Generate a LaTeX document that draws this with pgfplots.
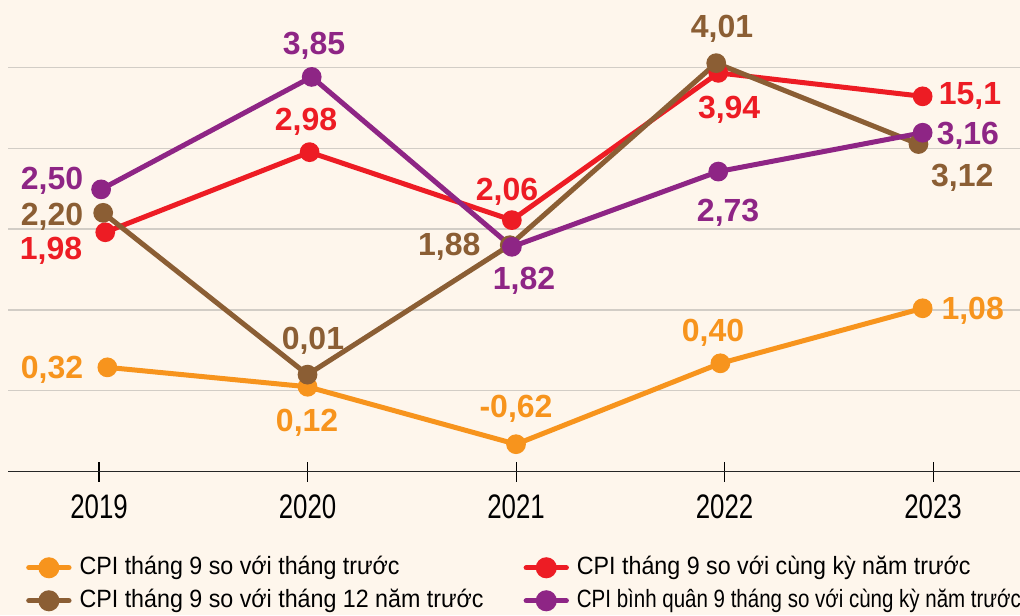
\documentclass[border=0pt]{standalone}
\usepackage{pgfplots}
\pgfplotsset{compat=1.18}
\usepackage{fontspec}
\setmainfont{Liberation Sans}
\newfontfamily\tickfont[FakeStretch=0.76]{Liberation Sans}
\newfontfamily\legfont[FakeStretch=0.93]{Liberation Sans}
\newfontfamily\legfontn[FakeStretch=0.82]{Liberation Sans}
\definecolor{bgC}{HTML}{FEF6EC}
\definecolor{gridC}{HTML}{D2CDC6}
\definecolor{orangeC}{HTML}{F7941D}
\definecolor{redC}{HTML}{ED1C24}
\definecolor{brownC}{HTML}{8B5E34}
\definecolor{purpleC}{HTML}{8E2585}
\tikzset{lab/.style={font=\fontsize{24pt}{24pt}\selectfont\bfseries, inner sep=0pt, text height=17pt, text depth=0pt}}
\begin{document}
\begin{tikzpicture}
\fill[bgC] (0,0) rectangle (765pt,-461.25pt);
\useasboundingbox (0,0) rectangle (765pt,-461.25pt);
\begin{axis}[
  at={(6pt,-353.775pt)}, anchor=south west,
  scale only axis, width=759pt, height=353.775pt,
  xmin=2018.5635, xmax=2023.417,
  ymin=0, ymax=5.8307,
  clip=false,
  axis x line*=bottom, axis y line*=left,
  y axis line style={draw=none},
  xtick={2019,2020,2021,2022,2023},
  xticklabels={2019,2020,2021,2022,2023},
  ytick={1,2,3,4,5}, yticklabels={},
  ymajorgrids,
  grid style={line width=0.9pt, color=gridC},
  tick align=center,
  major tick length=15pt,
  xtick style={line width=0.8pt, color=black},
  ytick style={draw=none},
  x axis line style={line width=0.9pt, color=black!85},
  xticklabel style={font=\fontsize{25.5pt}{28pt}\tickfont, text=black, yshift=-6pt},
  every axis plot/.append style={line width=3.75pt, mark=*, mark size=5.5pt},
  legend columns=2,
  legend cell align=left,
  legend style={draw=none, fill=none, at={(0.0138,-0.172)}, anchor=north west,
    font=\fontsize{18.75pt}{22pt}\legfont,
    nodes={inner sep=0pt, text height=14pt, text depth=4pt},
    row sep=6.75pt,
    /tikz/every odd column/.append style={column sep=6pt},
    /tikz/every even column/.append style={column sep=30pt}},
  legend image code/.code={
    \draw[#1, line width=4pt, line cap=round, mark=none] (0pt,0pt) -- (30pt,0pt);
    \fill[#1] (15pt,0pt) circle (6pt);
  },
]
\addplot[color=orangeC, mark options={fill=orangeC}] coordinates {
  (2019.04,1.29) (2020.00,1.05) (2021.00,0.34) (2021.98,1.34) (2022.95,2.02)};
\addlegendentry{CPI tháng 9 so với tháng trước}
\addplot[color=redC, mark options={fill=redC}] coordinates {
  (2019.03,2.96) (2020.01,3.95) (2020.98,3.11) (2021.97,4.93) (2022.95,4.64)};
\addlegendentry{CPI tháng 9 so với cùng kỳ năm trước}
\addplot[color=brownC, mark options={fill=brownC}] coordinates {
  (2019.02,3.20) (2020.00,1.20) (2020.97,2.80) (2021.96,5.05) (2022.93,4.05)};
\addlegendentry{CPI tháng 9 so với tháng 12 năm trước}
\addplot[color=purpleC, mark options={fill=purpleC}] coordinates {
  (2019.01,3.49) (2020.02,4.88) (2020.98,2.78) (2021.97,3.71) (2022.95,4.19)};
\addlegendentry{\legfontn CPI bình quân 9 tháng so với cùng kỳ năm trước}
% value labels
\node[lab, text=purpleC] at (axis cs:2018.775,3.630) {2,50};
\node[lab, text=brownC] at (axis cs:2018.775,3.183) {2,20};
\node[lab, text=redC] at (axis cs:2018.770,2.765) {1,98};
\node[lab, text=orangeC] at (axis cs:2018.775,1.294) {0,32};
\node[lab, text=purpleC] at (axis cs:2020.031,5.299) {3,85};
\node[lab, text=redC] at (axis cs:2019.993,4.360) {2,98};
\node[lab, text=brownC] at (axis cs:2020.026,1.653) {0,01};
\node[lab, text=orangeC] at (axis cs:2019.998,0.639) {0,12};
\node[lab, text=redC] at (axis cs:2020.957,3.494) {2,06};
\node[lab, text=brownC] at (axis cs:2020.680,2.814) {1,88};
\node[lab, text=purpleC] at (axis cs:2021.038,2.394) {1,82};
\node[lab, text=orangeC] at (axis cs:2021.000,0.812) {-0,62};
\node[lab, text=brownC] at (axis cs:2021.988,5.509) {4,01};
\node[lab, text=redC] at (axis cs:2022.022,4.508) {3,94};
\node[lab, text=purpleC] at (axis cs:2022.017,3.235) {2,73};
\node[lab, text=orangeC] at (axis cs:2021.945,1.752) {0,40};
\node[lab, text=redC] at (axis cs:2023.177,4.681) {15,1};
\node[lab, text=purpleC] at (axis cs:2023.167,4.187) {3,16};
\node[lab, text=brownC] at (axis cs:2023.140,3.667) {3,12};
\node[lab, text=orangeC] at (axis cs:2023.190,2.023) {1,08};
\end{axis}
\end{tikzpicture}
\end{document}
